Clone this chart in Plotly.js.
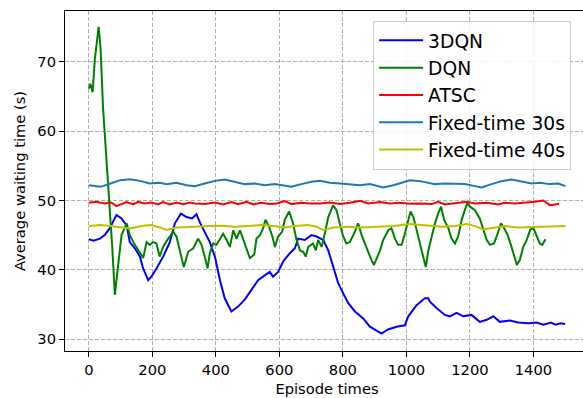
<!DOCTYPE html>
<html>
<head>
<meta charset="utf-8">
<script src="https://cdn.plot.ly/plotly-3.0.1.min.js"></script>
<style>
html, body { margin: 0; padding: 0; overflow: hidden; background: #fff; }
#chart { width: 600px; height: 398px; }
</style>
</head>
<body>
<div id="chart"></div>
<script>
// ---- data ----
const dqn3Ep = [0,15,35,50,66,87,103,119,129,145,161,171,187,197,213,234,255,271,290,308,325,339,350,365,381,397,413,428,449,470,491,512,533,554,570,580,596,612,633,649,659,680,701,717,738,754,769,785,801,817,838,864,885,906,922,942,969,995,1006,1032,1058,1069,1074,1095,1121,1137,1158,1179,1205,1231,1253,1274,1294,1326,1352,1384,1410,1431,1455,1470,1485,1500];
const dqn3Val = [44.4,44.2,44.5,45.0,46.0,47.9,47.4,46.4,44.0,43.1,41.9,40.2,38.5,39.0,40.2,41.9,44.0,46.7,48.1,47.6,47.4,48.0,46.8,45.5,44.0,41.9,38.5,35.9,34.0,34.7,35.7,37.1,38.5,39.2,39.7,39.0,39.7,41.2,42.4,43.1,44.5,44.3,45.0,44.8,44.3,42.8,40.4,38.1,36.6,35.2,34.0,33.0,31.8,31.3,30.8,31.4,31.8,32.0,33.3,34.9,35.9,35.9,35.4,34.5,33.5,33.3,33.8,33.3,33.5,32.5,32.8,33.3,32.5,32.7,32.4,32.3,32.4,32.1,32.4,32.1,32.3,32.2];

const dqnEp = [0,5,12,19,31,37,45,56,66,74,82,92,103,119,129,145,161,171,182,192,203,213,223,234,250,266,276,287,299,313,329,344,355,365,374,381,392,402,413,423,434,444,455,465,476,486,497,507,521,528,539,549,556,567,578,586,596,609,617,631,643,654,665,675,683,691,706,715,722,733,743,754,769,780,790,801,811,822,838,848,859,869,880,890,898,906,917,927,943,953,964,974,985,995,1006,1013,1022,1032,1042,1053,1061,1069,1079,1090,1100,1109,1119,1132,1142,1153,1163,1174,1184,1192,1200,1216,1231,1242,1253,1263,1276,1287,1298,1308,1319,1329,1340,1348,1357,1368,1379,1390,1400,1410,1420,1428,1438];
const dqnVal = [66.1,66.8,65.6,70.4,75.0,71.9,63.2,55.6,49.8,43.1,36.4,40.2,45.0,46.7,45.0,43.6,42.4,41.7,44.0,43.6,44.0,43.8,41.9,43.3,44.5,45.5,44.8,42.6,40.4,42.6,43.1,44.5,43.6,41.9,40.2,42.4,43.8,43.6,44.5,45.2,44.3,43.3,45.7,44.5,45.7,44.3,42.8,41.7,42.2,44.5,45.0,46.0,47.2,46.3,44.8,43.3,44.8,45.5,47.2,48.4,46.7,44.3,42.8,42.6,41.9,43.3,43.8,42.8,44.3,43.3,45.2,47.6,49.3,48.6,46.7,44.8,43.8,44.0,45.5,46.7,45.0,43.8,42.6,41.4,40.7,41.5,42.8,44.3,45.7,46.0,44.5,43.6,43.6,45.2,47.2,48.4,47.6,45.7,43.8,41.7,40.4,42.8,44.8,46.7,48.1,49.1,47.2,46.0,44.5,43.8,44.8,47.2,48.6,49.6,49.1,48.6,47.4,46.0,44.3,43.6,43.8,45.2,46.7,46.0,45.0,43.6,42.1,40.7,41.4,43.3,44.3,45.8,46.0,45.0,43.8,43.6,44.4];

const atscEp = [0,24,50,71,87,103,119,140,155,176,197,218,234,255,276,297,318,334,365,397,423,449,470,497,518,543,570,591,617,638,669,696,728,759,791,822,854,880,917,948,980,1011,1043,1079,1100,1121,1153,1190,1216,1253,1289,1310,1342,1373,1405,1431,1452,1468,1481];
const atscVal = [49.66,49.80,49.56,49.71,49.18,49.47,49.76,49.42,49.80,49.56,49.71,49.42,49.76,49.42,49.71,49.47,49.71,49.56,49.47,49.71,49.42,49.76,49.47,49.80,49.42,49.66,49.47,49.56,49.90,49.47,49.66,49.56,49.56,49.71,49.47,49.66,49.95,49.56,49.76,49.56,49.66,49.52,49.56,49.47,49.80,49.42,49.56,49.80,49.56,49.66,49.42,49.66,49.56,49.66,49.80,50.00,49.32,49.42,49.47];

const fixed30Ep = [0,37,68,99,129,161,192,224,245,276,308,334,365,397,428,460,491,523,554,585,617,638,669,701,728,759,791,822,854,885,927,959,990,1011,1043,1069,1090,1121,1153,1184,1216,1237,1268,1300,1331,1363,1394,1420,1452,1478,1501];
const fixed30Val = [52.2,51.96,52.44,52.92,53.06,52.82,52.44,52.54,52.35,52.54,52.2,52.06,52.44,52.82,53.02,52.68,52.35,52.44,52.2,52.35,52.06,51.96,52.35,52.68,52.82,52.54,52.44,52.35,52.2,52.35,51.87,52.2,52.68,52.92,52.78,52.54,52.35,52.44,52.35,52.35,52.06,51.87,52.35,52.78,53.02,52.68,52.44,52.54,52.35,52.44,52.06];

const fixed40Ep = [0,37,68,99,129,166,197,224,245,276,308,334,376,418,460,502,543,585,617,648,690,717,738,770,812,854,906,959,1011,1043,1069,1111,1153,1190,1216,1242,1279,1310,1352,1405,1431,1462,1501];
const fixed40Val = [46.30,46.45,46.30,46.11,45.97,46.30,46.45,46.11,45.73,46.11,46.21,46.21,46.30,46.35,46.21,46.30,46.45,46.30,46.11,46.30,46.45,46.21,45.73,46.11,46.21,46.11,46.21,46.30,46.59,46.45,46.30,46.21,46.30,46.59,46.30,45.82,46.11,46.30,46.11,46.21,46.21,46.30,46.30];

const seriesNames = ['3DQN','DQN','ATSC','Fixed-time 30s','Fixed-time 40s'];
const seriesColors = ['#0000ff','#008000','#ff0000','#1f77b4','#bfbf00'];
const xTicks = [0,200,400,600,800,1000,1200,1400];
const yTicks = [30,40,50,60,70];

const xs = [dqn3Ep, dqnEp, atscEp, fixed30Ep, fixed40Ep];
const ys = [dqn3Val, dqnVal, atscVal, fixed30Val, fixed40Val];

const traces = seriesNames.map((n, i) => ({
  type: 'scatter', mode: 'lines', name: n,
  x: xs[i], y: ys[i],
  line: {color: seriesColors[i], width: 2}
}));

const font = {family: 'DejaVu Sans, sans-serif', color: '#000'};
const axisCommon = {
  showgrid: true, gridcolor: '#b0b0b0', gridwidth: 1, griddash: '4px,2px',
  showline: true, linecolor: '#000', linewidth: 1, mirror: true,
  ticks: 'outside', ticklen: 5, tickwidth: 1, tickcolor: '#000',
  zeroline: false, tickfont: {family: font.family, size: 14.7, color: '#000'}
};

const layout = {
  width: 600, height: 398,
  margin: {l: 65, r: 11, t: 11, b: 47},
  paper_bgcolor: '#fff', plot_bgcolor: '#fff',
  font: font,
  showlegend: true,
  legend: {
    x: 0.588, y: 0.9715, xanchor: 'left', yanchor: 'top',
    bgcolor: 'rgba(255,255,255,0.85)', bordercolor: '#cccccc', borderwidth: 1,
    font: {family: font.family, size: 18.7, color: '#000'},
    itemwidth: 44,
    tracegroupgap: 0
  },
  xaxis: Object.assign({}, axisCommon, {
    range: [-75, 1575], tickmode: 'array', tickvals: xTicks, ticktext: xTicks.map(String),
    title: {text: 'Episode times', font: {family: font.family, size: 14.7, color: '#000'}, standoff: 7}
  }),
  yaxis: Object.assign({}, axisCommon, {
    range: [28.3, 77.3], tickmode: 'array', tickvals: yTicks, ticktext: yTicks.map(String),
    title: {text: 'Average waiting time (s)', font: {family: font.family, size: 14.7, color: '#000'}, standoff: 8}
  })
};

Plotly.newPlot('chart', traces, layout, {displayModeBar: false, staticPlot: true});
</script>
</body>
</html>
